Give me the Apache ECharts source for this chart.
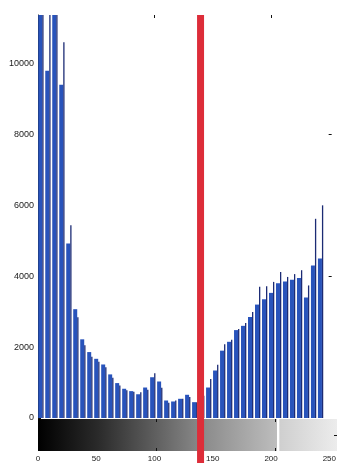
<!DOCTYPE html>
<html>
<head>
<meta charset="utf-8">
<script src="https://cdn.jsdelivr.net/npm/echarts@6/dist/echarts.min.js"></script>
<style>
html, body { margin: 0; padding: 0; background: #fff; }
#chart { width: 339px; height: 463px; }
</style>
</head>
<body>
<div id="chart"></div>
<script>
// histogram bins (grey level centres) and counts
const binCenters = [2.5, 8.5, 14.5, 20.5, 26.5, 32.5, 38.5, 44.5, 50.5, 56.5, 62.5, 68.5, 74.5, 80.5,
  86.5, 92.5, 98.5, 104.5, 110.5, 116.5, 122.5, 128.5, 134.5, 140.5, 146.5, 152.5, 158.5, 164.5,
  170.5, 176.5, 182.5, 188.5, 194.5, 200.5, 206.5, 212.5, 218.5, 224.5, 230.5, 236.5, 242.5];
const mainCounts = [14000, 9800, 14000, 9400, 4920, 3070, 2220, 1860, 1670, 1510, 1230, 985, 825, 758,
  670, 860, 1150, 1030, 494, 466, 542, 655, 447, 607, 860, 1340, 1900, 2150, 2480, 2600, 2850,
  3200, 3350, 3530, 3800, 3850, 3900, 3950, 3400, 4300, 4500];
// thin dark stems drawn next to each bar
const stemCounts = [14000, 12000, 14000, 10600, 5440, 2840, 2050, 1730, 1590, 1435, 1135, 918, 780, 740,
  730, 800, 1260, 850, 430, 494, 542, 590, 447, 630, 1100, 1500, 2080, 2210, 2510, 2680, 2990,
  3700, 3720, 3840, 4120, 3980, 4060, 4170, 3740, 5620, 6000];

const xLabels = [0, 50, 100, 150, 200, 250];
const xTickMarks = [100, 200];
const yLabels = [0, 2000, 4000, 6000, 8000, 10000];
const yRightTicks = [4000, 8000];
const threshold = 137;

const xMax = 252;
const yMax = 11370;

const chart = echarts.init(document.getElementById('chart'));

const tickStyle = { color: '#111', width: 1 };
const noLine = { show: false, onZero: false };

let option = {
  animation: false,
  grid: [
    { left: 38, right: 2, top: 15, bottom: 45 },
    {
      left: 38, right: 2, top: 419, height: 32, show: true, borderWidth: 0,
      backgroundColor: {
        type: 'linear', x: 0, y: 0, x2: 1, y2: 0,
        colorStops: [
          { offset: 0, color: '#000000' },
          { offset: 0.2, color: '#2a2a2a' },
          { offset: 0.54, color: '#888888' },
          { offset: 0.8, color: '#bdbdbd' },
          { offset: 0.801, color: '#ffffff' },
          { offset: 0.807, color: '#ffffff' },
          { offset: 0.808, color: '#cfcfcf' },
          { offset: 1, color: '#ececec' }
        ]
      }
    },
    { left: 38, right: 2, top: 15, bottom: 0 }
  ],
  xAxis: [
    {
      gridIndex: 0, type: 'value', min: 0, max: xMax, position: 'bottom',
      axisLine: noLine, axisTick: { show: false }, splitLine: { show: false },
      axisLabel: { customValues: xLabels, margin: 37, fontSize: 8, color: '#1a1a1a', fontFamily: 'Liberation Sans' }
    },
    {
      gridIndex: 0, type: 'value', min: 0, max: xMax, position: 'top',
      axisLine: noLine, splitLine: { show: false }, axisLabel: { show: false },
      axisTick: { customValues: xTickMarks, inside: true, length: 3, lineStyle: tickStyle }
    },
    {
      gridIndex: 1, type: 'value', min: 0, max: xMax, position: 'top',
      axisLine: noLine, splitLine: { show: false }, axisLabel: { show: false },
      axisTick: { customValues: xTickMarks, inside: true, length: 3, lineStyle: tickStyle }
    },
    {
      gridIndex: 1, type: 'value', min: 0, max: xMax, position: 'bottom',
      axisLine: noLine, splitLine: { show: false }, axisLabel: { show: false },
      axisTick: { customValues: xTickMarks, inside: true, length: 3, lineStyle: tickStyle }
    },
    { gridIndex: 2, type: 'value', min: 0, max: xMax, show: false }
  ],
  yAxis: [
    {
      gridIndex: 0, type: 'value', min: 0, max: yMax, position: 'left',
      axisLine: { show: true, onZero: false, lineStyle: { color: '#111', width: 1 } },
      axisTick: { customValues: yLabels, inside: true, length: 3, lineStyle: tickStyle },
      axisLabel: {
        customValues: yLabels, fontSize: 9, margin: 4, color: '#1a1a1a', fontFamily: 'Liberation Sans',
        formatter: v => String(v)
      },
      splitLine: { show: false }
    },
    {
      gridIndex: 0, type: 'value', min: 0, max: yMax, position: 'right',
      axisLine: noLine, axisLabel: { show: false }, splitLine: { show: false },
      axisTick: { show: true, customValues: yRightTicks, inside: true, length: 3, lineStyle: tickStyle }
    },
    {
      gridIndex: 1, type: 'value', min: 0, max: 1, position: 'right',
      axisLine: noLine, axisLabel: { show: false }, splitLine: { show: false },
      axisTick: { show: true, customValues: [0.5], inside: true, length: 3, lineStyle: tickStyle }
    },
    { gridIndex: 2, type: 'value', min: 0, max: 1, show: false }
  ],
  series: [
    {
      type: 'bar', xAxisIndex: 0, yAxisIndex: 0,
      data: binCenters.map((x, i) => [x, mainCounts[i]]),
      barWidth: 4, barGap: '0%',
      itemStyle: { color: '#2853bb' }
    },
    {
      type: 'bar', xAxisIndex: 0, yAxisIndex: 0,
      data: binCenters.map((x, i) => [x, stemCounts[i]]),
      barWidth: 1.3, barGap: '0%',
      itemStyle: { color: '#1c2b74' }
    },
    {
      // threshold marker
      type: 'line', xAxisIndex: 4, yAxisIndex: 3, z: 10,
      data: [[threshold, 0], [threshold, 1]],
      symbol: 'none',
      lineStyle: { color: '#dd2d39', width: 7, cap: 'butt' }
    }
  ]
};

chart.setOption(option);
</script>
</body>
</html>
